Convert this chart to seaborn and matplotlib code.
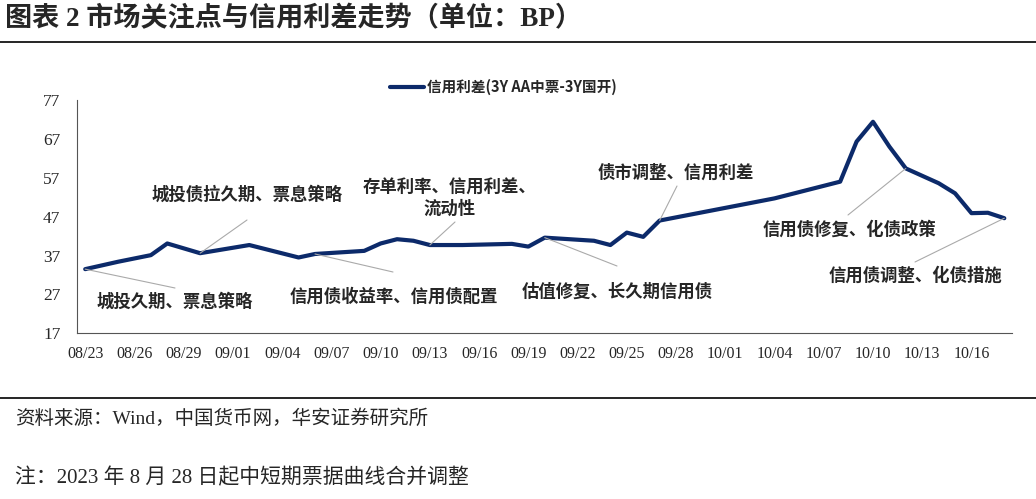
import matplotlib
matplotlib.use('Agg')
import matplotlib.pyplot as plt
import matplotlib.dates as mdates
import seaborn as sns
import pandas as pd

# credit spread 3Y AA MTN - 3Y CDB (bp)
dates = ['08/23', '08/25', '08/27', '08/28', '08/30', '09/02', '09/05', '09/06',
         '09/09', '09/10', '09/11', '09/12', '09/13', '09/15', '09/18', '09/19',
         '09/20', '09/23', '09/24', '09/25', '09/26', '09/27', '10/04', '10/08',
         '10/09', '10/10', '10/11', '10/12', '10/13', '10/14', '10/15', '10/16',
         '10/17', '10/18']
spread = [33.5, 35.4, 37.1, 40.1, 37.6, 39.7, 36.5, 37.4,
          38.2, 40.1, 41.2, 40.8, 39.7, 39.7, 40.0, 39.3,
          41.6, 40.8, 39.7, 42.9, 41.8, 46.0, 51.7, 56.0,
          66.3, 71.4, 65.0, 59.4, 57.5, 55.6, 53.0, 47.9,
          48.0, 46.6]

# market focus notes and the date each one points at
note_texts = ['城投久期、票息策略', '城投债拉久期、票息策略', '信用债收益率、信用债配置',
              '存单利率、信用利差、\n流动性', '估值修复、长久期信用债', '债市调整、信用利差',
              '信用债修复、化债政策', '信用债调整、化债措施']
note_dates = ['08/23', '08/30', '09/06', '09/13', '09/20', '09/27', '10/12', '10/18']

# layout (figure pixels from top-left): text centre, leader line end
note_layout = [(175, 302, 175, 288), (247, 195, 247, 220), (394, 297, 393, 272),
               (450, 198, 455, 222), (617, 292, 617, 266), (676, 173, 677, 186),
               (849, 230, 848, 215), (915, 276, 915, 262)]

W, H = 1036, 499
df = pd.DataFrame({'date': pd.to_datetime(['2023/' + d for d in dates]), 'spread': spread})

sns.set_style('white')
plt.rcParams['font.family'] = ['Liberation Serif', 'Noto Sans CJK SC']
cjk = ['Noto Sans CJK SC', 'DejaVu Sans']

fig = plt.figure(figsize=(W / 100, H / 100), dpi=100)
ax = fig.add_axes([77 / W, 1 - 333.3 / H, 935.5 / W, 233.3 / H])

navy = '#0c2a6a'
sns.lineplot(data=df, x='date', y='spread', ax=ax, color=navy, linewidth=3,
             label='信用利差(3Y AA中票-3Y国开)')
ax.lines[0].set_solid_joinstyle('round')

ax.set_xlim(pd.Timestamp('2023-08-22 12:00'), pd.Timestamp('2023-10-18 12:00'))
ax.set_ylim(17, 77)
ax.set_yticks(range(17, 78, 10))
ax.set_xticks(pd.date_range('2023-08-22 12:00', '2023-10-18 12:00', freq='3D'))
ax.set_xticklabels([])
ax.set_xticks(pd.date_range('2023-08-23', '2023-10-16', freq='3D'), minor=True)
ax.xaxis.set_minor_formatter(mdates.DateFormatter('%m/%d'))
ax.tick_params(axis='x', which='major', length=4, width=0.8, color='#555555', direction='out')
ax.tick_params(axis='x', which='minor', length=0, labelsize=11.5, pad=9)
ax.tick_params(axis='y', length=4, width=0.8, color='#555555', direction='out',
               labelsize=12.5, pad=8)
ax.set_xlabel('')
ax.set_ylabel('')
for s in ['top', 'right']:
    ax.spines[s].set_visible(False)
for s in ['left', 'bottom']:
    ax.spines[s].set_color('#555555')
    ax.spines[s].set_linewidth(0.8)

leg = ax.legend(loc='center left', bbox_to_anchor=(390 / W, 1 - 87 / H),
                bbox_transform=fig.transFigure, frameon=False, handlelength=2.3,
                handletextpad=0.25, borderpad=0, borderaxespad=0,
                prop={'family': cjk, 'size': 10.5, 'weight': 'bold'})

val = dict(zip(dates, spread))
for txt, d, (cx, cy, lx, ly) in zip(note_texts, note_dates, note_layout):
    ax.annotate('', xy=(pd.Timestamp('2023/' + d), val[d]), xytext=(lx, H - ly),
                textcoords='figure pixels',
                arrowprops=dict(arrowstyle='-', color='#aaaaaa', lw=0.8,
                                shrinkA=0, shrinkB=0))
    fig.text(cx / W, 1 - cy / H, txt, ha='center', va='center', ma='center',
             family=cjk, fontsize=12.5, fontweight='bold', linespacing=1.25)

fig.text(5 / W, 1 - 19 / H, '图表 2 市场关注点与信用利差走势（单位：BP）',
         ha='left', va='center', fontsize=19.5, fontweight='bold')
fig.add_artist(plt.Line2D([0, 1], [1 - 41.5 / H] * 2, color='black', lw=1.2))
fig.add_artist(plt.Line2D([0, 1], [1 - 397.5 / H] * 2, color='black', lw=1.2))
fig.text(15 / W, 1 - 419 / H, '资料来源：Wind，中国货币网，华安证券研究所',
         ha='left', va='center', fontsize=14)
fig.text(15 / W, 1 - 478 / H, '注：2023 年 8 月 28 日起中短期票据曲线合并调整',
         ha='left', va='center', fontsize=15)

fig.savefig('out.png', dpi=100)
